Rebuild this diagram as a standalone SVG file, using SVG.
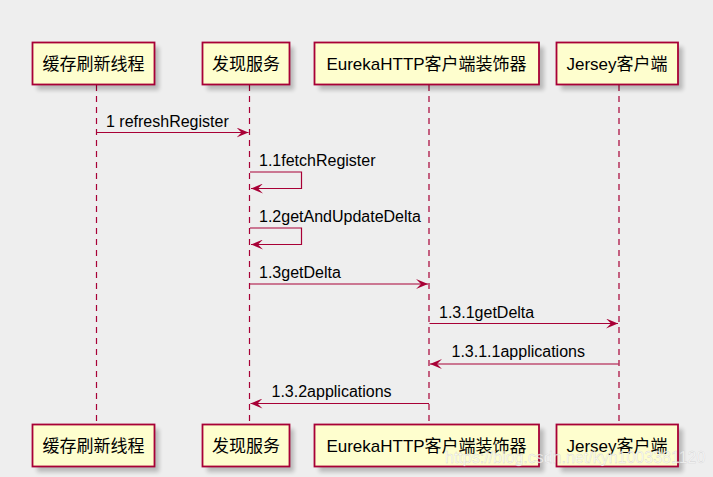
<svg xmlns="http://www.w3.org/2000/svg" width="713" height="477" viewBox="0 0 713 477">
<style>
.box{fill:#FEFECE;stroke:#A80036;stroke-width:1.8}
.shadow{fill:#000;opacity:0.22;filter:url(#blur)}
.ptext{font-family:"Liberation Sans","Noto Sans CJK SC",sans-serif;font-size:17px;fill:#000;text-anchor:middle}
.mtext{font-family:"Liberation Sans",Arial,sans-serif;font-size:16px;fill:#000}
.life{stroke:#A80036;stroke-width:1.2;stroke-dasharray:6,5;fill:none}
.msg{stroke:#A80036;stroke-width:1.2;fill:none}
.wm{font-family:"Liberation Sans",Arial,sans-serif;font-size:16px;fill:#ffffff;fill-opacity:0.75;stroke:#bbbbbb;stroke-width:0.4;stroke-opacity:0.6}
</style>
<defs>
<filter id="blur" x="-10%" y="-20%" width="130%" height="160%"><feGaussianBlur stdDeviation="2"/></filter>
<marker id="ah" viewBox="0 0 12 10" refX="12" refY="5" markerWidth="12" markerHeight="10" markerUnits="userSpaceOnUse" orient="auto">
<polygon points="0,0 12,5 0,10 5,5" fill="#A80036"/>
</marker>
</defs>
<rect width="713" height="477" fill="#EEEEEE"/>
<g id="lifelines">
<line class="life" x1="96.5" y1="85" x2="96.5" y2="424"/>
<line class="life" x1="249.5" y1="85" x2="249.5" y2="424"/>
<line class="life" x1="429" y1="85" x2="429" y2="424"/>
<line class="life" x1="619" y1="85" x2="619" y2="424"/>
</g>
<g id="p1">
<rect class="shadow" x="37" y="47" width="122" height="43"/>
<rect class="box" x="32.5" y="42.5" width="122" height="42"/>
<text class="ptext" x="93.5" y="69.5">缓存刷新线程</text>
<rect class="shadow" x="37" y="429" width="122" height="43"/>
<rect class="box" x="32.5" y="424.5" width="122" height="42"/>
<text class="ptext" x="93.5" y="451.5">缓存刷新线程</text>
</g>
<g id="p2">
<rect class="shadow" x="207" y="47" width="87" height="43"/>
<rect class="box" x="202.5" y="42.5" width="87" height="42"/>
<text class="ptext" x="246" y="69.5">发现服务</text>
<rect class="shadow" x="207" y="429" width="87" height="43"/>
<rect class="box" x="202.5" y="424.5" width="87" height="42"/>
<text class="ptext" x="246" y="451.5">发现服务</text>
</g>
<g id="p3">
<rect class="shadow" x="319" y="47" width="225" height="43"/>
<rect class="box" x="314.5" y="42.5" width="224.5" height="42"/>
<text class="ptext" x="426.5" y="69.5">EurekaHTTP客户端装饰器</text>
<rect class="shadow" x="319" y="429" width="225" height="43"/>
<rect class="box" x="314.5" y="424.5" width="224.5" height="42"/>
<text class="ptext" x="426.5" y="451.5">EurekaHTTP客户端装饰器</text>
</g>
<g id="p4">
<rect class="shadow" x="561" y="47" width="122" height="43"/>
<rect class="box" x="556.5" y="42.5" width="121.5" height="42"/>
<text class="ptext" x="617" y="69.5">Jersey客户端</text>
<rect class="shadow" x="561" y="429" width="122" height="43"/>
<rect class="box" x="556.5" y="424.5" width="121.5" height="42"/>
<text class="ptext" x="617" y="451.5">Jersey客户端</text>
</g>
<g id="connectors">
<line class="msg" x1="97" y1="132.5" x2="248.5" y2="132.5" marker-end="url(#ah)"/>
<text class="mtext" x="106" y="127">1 refreshRegister</text>
<polyline class="msg" points="250,172 301.5,172 301.5,188.5 251,188.5" marker-end="url(#ah)"/>
<text class="mtext" x="259" y="166">1.1fetchRegister</text>
<polyline class="msg" points="250,228 301.5,228 301.5,244.5 251,244.5" marker-end="url(#ah)"/>
<text class="mtext" x="259" y="222">1.2getAndUpdateDelta</text>
<line class="msg" x1="250" y1="284" x2="428" y2="284" marker-end="url(#ah)"/>
<text class="mtext" x="259" y="277.5">1.3getDelta</text>
<line class="msg" x1="429.5" y1="323.5" x2="618" y2="323.5" marker-end="url(#ah)"/>
<text class="mtext" x="439" y="317.5">1.3.1getDelta</text>
<line class="msg" x1="618.5" y1="364" x2="430" y2="364" marker-end="url(#ah)"/>
<text class="mtext" x="451.5" y="357">1.3.1.1applications</text>
<line class="msg" x1="429" y1="403.5" x2="250.5" y2="403.5" marker-end="url(#ah)"/>
<text class="mtext" x="271.5" y="397">1.3.2applications</text>
</g>
<text class="wm" x="445" y="463">https://blog.csdn.net/kyh1003381120</text>
</svg>
